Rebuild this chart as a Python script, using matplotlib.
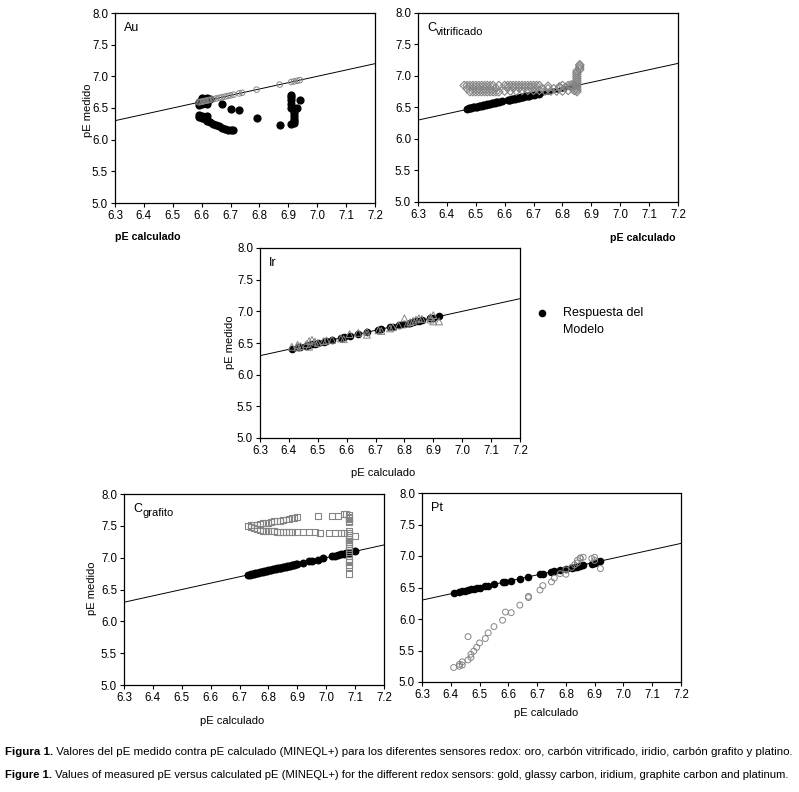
import matplotlib
matplotlib.use("Agg")
import matplotlib.pyplot as plt
from matplotlib import font_manager

plt.rcParams['font.family'] = ['Liberation Sans', 'DejaVu Sans']

GRAY = '#858585'

# ---- data: Au ----
au_open_x = [6.59, 6.595, 6.60, 6.605, 6.61, 6.615, 6.62, 6.625, 6.63, 6.64, 6.65, 6.66, 6.67,
             6.68, 6.69, 6.70, 6.71, 6.73, 6.74, 6.79, 6.87, 6.91, 6.92, 6.93, 6.94]
au_open_y = [6.59, 6.595, 6.60, 6.605, 6.61, 6.615, 6.62, 6.625, 6.63, 6.64, 6.65, 6.66, 6.67,
             6.68, 6.69, 6.70, 6.71, 6.73, 6.74, 6.79, 6.87, 6.91, 6.92, 6.93, 6.94]
au_x = [6.59, 6.59, 6.60, 6.60, 6.60, 6.61, 6.61, 6.62, 6.62, 6.62, 6.63, 6.67, 6.70, 6.73, 6.79, 6.87, 6.94,
        6.59, 6.59, 6.60, 6.60, 6.61, 6.62, 6.62, 6.63, 6.64, 6.65, 6.66, 6.67, 6.68, 6.69, 6.70, 6.71,
        6.91, 6.91, 6.91, 6.91, 6.91, 6.92, 6.92, 6.92, 6.92, 6.92, 6.91, 6.92, 6.93]
au_y = [6.60, 6.55, 6.66, 6.62, 6.57, 6.63, 6.58, 6.66, 6.61, 6.56, 6.64, 6.56, 6.48, 6.47, 6.34, 6.23, 6.62,
        6.39, 6.36, 6.38, 6.34, 6.33, 6.37, 6.30, 6.28, 6.25, 6.23, 6.21, 6.19, 6.17, 6.15, 6.15, 6.16,
        6.71, 6.67, 6.62, 6.56, 6.50, 6.46, 6.42, 6.37, 6.33, 6.29, 6.25, 6.27, 6.50]

# ---- data: C vitrificado ----
cv_black_x = [6.47, 6.475, 6.48, 6.485, 6.49, 6.495, 6.50, 6.505, 6.51, 6.515, 6.52, 6.525, 6.53, 6.535,
              6.54, 6.545, 6.55, 6.555, 6.56, 6.565, 6.57, 6.575, 6.58, 6.59, 6.61, 6.615, 6.62, 6.625,
              6.63, 6.635, 6.64, 6.645, 6.65, 6.655, 6.66, 6.665, 6.67, 6.675, 6.68, 6.685, 6.69, 6.70,
              6.71, 6.72]
cv_black_y = [6.48, 6.485, 6.49, 6.495, 6.50, 6.505, 6.51, 6.515, 6.52, 6.525, 6.53, 6.535, 6.54, 6.545,
              6.55, 6.555, 6.56, 6.565, 6.57, 6.575, 6.58, 6.585, 6.59, 6.60, 6.615, 6.62, 6.625, 6.63,
              6.635, 6.64, 6.645, 6.65, 6.655, 6.66, 6.665, 6.67, 6.675, 6.68, 6.685, 6.69, 6.695, 6.70,
              6.71, 6.72]
cv_dot_x = [6.73, 6.74, 6.75, 6.76, 6.77, 6.78, 6.79, 6.80, 6.81, 6.82, 6.83, 6.84, 6.85]
cv_dot_y = [6.73, 6.74, 6.75, 6.76, 6.77, 6.78, 6.79, 6.80, 6.81, 6.82, 6.83, 6.84, 6.85]
cv_dia_x = [6.46, 6.47, 6.48, 6.49, 6.50, 6.51, 6.52, 6.53, 6.54, 6.55, 6.56, 6.58, 6.60, 6.61, 6.62, 6.63,
            6.64, 6.65, 6.66, 6.67, 6.68, 6.69, 6.70, 6.71, 6.72, 6.75, 6.79, 6.80, 6.82, 6.83, 6.84,
            6.47, 6.49, 6.51, 6.53, 6.55, 6.57, 6.61, 6.63, 6.65, 6.67, 6.69, 6.71, 6.73, 6.75, 6.77,
            6.79, 6.81, 6.83,
            6.48, 6.49, 6.50, 6.51, 6.52, 6.53, 6.54, 6.55, 6.56, 6.57, 6.58, 6.60, 6.62, 6.64, 6.66,
            6.68, 6.70, 6.72, 6.74, 6.76, 6.78, 6.80, 6.82, 6.84,
            6.85, 6.85, 6.85, 6.85, 6.85, 6.85, 6.85, 6.85, 6.85, 6.85, 6.85, 6.85, 6.86, 6.86, 6.86, 6.86]
cv_dia_y = [6.85, 6.85, 6.85, 6.85, 6.85, 6.85, 6.85, 6.85, 6.85, 6.85, 6.85, 6.85, 6.85, 6.85, 6.85, 6.85,
            6.85, 6.85, 6.85, 6.85, 6.85, 6.85, 6.85, 6.85, 6.85, 6.84, 6.83, 6.85, 6.85, 6.86, 6.86,
            6.80, 6.80, 6.80, 6.80, 6.80, 6.81, 6.81, 6.81, 6.81, 6.81, 6.81, 6.80, 6.80, 6.80, 6.80,
            6.81, 6.82, 6.83,
            6.75, 6.75, 6.75, 6.75, 6.75, 6.75, 6.75, 6.75, 6.75, 6.75, 6.75, 6.76, 6.76, 6.76, 6.77,
            6.77, 6.77, 6.77, 6.76, 6.76, 6.76, 6.76, 6.77, 6.77,
            6.75, 6.78, 6.81, 6.84, 6.87, 6.90, 6.93, 6.96, 6.99, 7.02, 7.05, 7.08, 7.10, 7.13, 7.16, 7.18]

# ---- data: Ir ----
ir_x = [6.41, 6.43, 6.44, 6.46, 6.47, 6.48, 6.49, 6.50, 6.52, 6.53, 6.55, 6.58, 6.59, 6.61, 6.64, 6.67,
        6.71, 6.72, 6.75, 6.76, 6.78, 6.80, 6.82, 6.83, 6.84, 6.85, 6.86, 6.89, 6.90, 6.92]
ir_y = [6.41, 6.43, 6.44, 6.46, 6.47, 6.48, 6.49, 6.50, 6.52, 6.53, 6.55, 6.58, 6.59, 6.61, 6.64, 6.67,
        6.71, 6.72, 6.75, 6.76, 6.78, 6.80, 6.82, 6.83, 6.84, 6.85, 6.86, 6.89, 6.90, 6.92]
ir_tri_x = [6.41, 6.43, 6.43, 6.44, 6.46, 6.47, 6.47, 6.48, 6.49, 6.50, 6.52, 6.53, 6.55, 6.58, 6.59,
            6.61, 6.64, 6.67, 6.67, 6.71, 6.72, 6.75, 6.76, 6.78, 6.80, 6.81, 6.82, 6.83, 6.84, 6.85,
            6.86, 6.89, 6.90, 6.90, 6.92, 6.89]
ir_tri_y = [6.44, 6.47, 6.43, 6.45, 6.48, 6.53, 6.44, 6.55, 6.52, 6.50, 6.53, 6.54, 6.55, 6.57, 6.56,
            6.64, 6.66, 6.68, 6.63, 6.70, 6.69, 6.73, 6.75, 6.78, 6.89, 6.80, 6.83, 6.85, 6.87, 6.89,
            6.88, 6.91, 6.94, 6.84, 6.84, 6.87]

# ---- data: C grafito ----
gr_x = [6.73, 6.735, 6.74, 6.745, 6.75, 6.755, 6.76, 6.765, 6.77, 6.775, 6.78, 6.785, 6.79, 6.795,
        6.80, 6.805, 6.81, 6.815, 6.82, 6.825, 6.83, 6.835, 6.84, 6.845, 6.85, 6.855, 6.86, 6.865,
        6.87, 6.875, 6.88, 6.885, 6.89, 6.895, 6.90, 6.92, 6.94, 6.95, 6.97, 6.99, 7.02, 7.03, 7.04,
        7.05, 7.06, 7.07, 7.08, 7.10]
gr_y = [6.73, 6.735, 6.74, 6.745, 6.75, 6.755, 6.76, 6.765, 6.77, 6.775, 6.78, 6.785, 6.79, 6.795,
        6.80, 6.805, 6.81, 6.815, 6.82, 6.825, 6.83, 6.835, 6.84, 6.845, 6.85, 6.855, 6.86, 6.865,
        6.87, 6.875, 6.88, 6.885, 6.89, 6.895, 6.90, 6.92, 6.94, 6.95, 6.97, 6.99, 7.02, 7.03, 7.04,
        7.05, 7.06, 7.07, 7.08, 7.11]
gr_sq_x = [6.73, 6.74, 6.75, 6.76, 6.77, 6.78, 6.79, 6.80, 6.81, 6.82, 6.83, 6.84, 6.85, 6.86, 6.87,
           6.88, 6.89, 6.90,
           6.74, 6.75, 6.76, 6.77, 6.78, 6.79, 6.80, 6.81, 6.82, 6.83, 6.84, 6.85, 6.86, 6.87, 6.88,
           6.90, 6.92, 6.94, 6.96, 6.98, 7.01, 7.03, 7.05, 7.06,
           6.97, 7.02, 7.04, 7.06, 7.07,
           7.08, 7.08, 7.08, 7.08, 7.08, 7.08, 7.08, 7.08, 7.08, 7.08, 7.08, 7.08, 7.08, 7.08, 7.08,
           7.08, 7.08, 7.08, 7.08, 7.08, 7.08, 7.08, 7.08, 7.08, 7.08, 7.10]
gr_sq_y = [7.50, 7.51, 7.51, 7.52, 7.53, 7.54, 7.54, 7.55, 7.56, 7.57, 7.58, 7.58, 7.59, 7.60, 7.61,
           7.62, 7.63, 7.64,
           7.48, 7.46, 7.45, 7.43, 7.42, 7.42, 7.42, 7.42, 7.42, 7.41, 7.41, 7.41, 7.40, 7.40, 7.40,
           7.40, 7.40, 7.40, 7.40, 7.39, 7.39, 7.39, 7.39, 7.39,
           7.65, 7.65, 7.66, 7.68, 7.68,
           7.67, 7.64, 7.62, 7.60, 7.58, 7.56, 7.42, 7.39, 7.36, 7.33, 7.30, 7.27, 7.24, 7.21, 7.18,
           7.15, 7.12, 7.09, 7.06, 7.03, 6.97, 6.93, 6.89, 6.85, 6.75, 7.34]

# ---- data: Pt ----
pt_x = [6.41, 6.43, 6.44, 6.45, 6.46, 6.47, 6.48, 6.49, 6.50, 6.52, 6.53, 6.55, 6.58, 6.59, 6.61, 6.64,
        6.67, 6.71, 6.72, 6.75, 6.76, 6.78, 6.80, 6.82, 6.83, 6.84, 6.85, 6.86, 6.89, 6.90, 6.92]
pt_y = [6.41, 6.43, 6.44, 6.45, 6.46, 6.47, 6.48, 6.49, 6.50, 6.52, 6.53, 6.55, 6.58, 6.59, 6.61, 6.64,
        6.67, 6.71, 6.72, 6.75, 6.76, 6.78, 6.79, 6.81, 6.82, 6.83, 6.84, 6.85, 6.88, 6.89, 6.92]
pt_open_x = [6.41, 6.43, 6.43, 6.44, 6.44, 6.46, 6.46, 6.47, 6.47, 6.48, 6.49, 6.50, 6.52, 6.53, 6.55,
             6.58, 6.59, 6.61, 6.64, 6.67, 6.67, 6.71, 6.72, 6.75, 6.76, 6.78, 6.80, 6.80, 6.82, 6.83,
             6.84, 6.84, 6.85, 6.85, 6.86, 6.89, 6.90, 6.90, 6.92]
pt_open_y = [5.23, 5.25, 5.28, 5.27, 5.32, 5.35, 5.72, 5.39, 5.44, 5.49, 5.55, 5.62, 5.69, 5.78, 5.88,
             5.98, 6.11, 6.10, 6.22, 6.34, 6.36, 6.46, 6.53, 6.59, 6.65, 6.72, 6.71, 6.78, 6.82, 6.86,
             6.89, 6.93, 6.96, 6.97, 6.98, 6.96, 6.98, 6.93, 6.80]

line_x = [6.3, 7.2]
line_y = [6.3, 7.2]

W, H = 799, 792
fig = plt.figure(figsize=(W / 100, H / 100), dpi=100)


def make_ax(l, t, r, b, label, sub=None):
    ax = fig.add_axes([l / W, 1 - b / H, (r - l) / W, (b - t) / H])
    ax.set_xlim(6.3, 7.2)
    ax.set_ylim(5.0, 8.0)
    ax.set_xticks([6.3, 6.4, 6.5, 6.6, 6.7, 6.8, 6.9, 7.0, 7.1, 7.2])
    ax.set_yticks([5.0, 5.5, 6.0, 6.5, 7.0, 7.5, 8.0])
    ax.xaxis.set_major_formatter('{x:.1f}')
    ax.yaxis.set_major_formatter('{x:.1f}')
    ax.tick_params(direction='out', length=3, width=0.8, labelsize=8.3, pad=2)
    for s in ax.spines.values():
        s.set_linewidth(0.9)
    ax.plot(line_x, line_y, color='black', lw=0.7, zorder=1)
    t = ax.text(0.035, 0.955, label, transform=ax.transAxes, fontsize=9, va='top', ha='left')
    if sub:
        ax.annotate(sub, xy=(1, 0), xycoords=t, xytext=(0, -2.5), textcoords='offset points',
                    fontsize=8, va='bottom', ha='left')
    return ax


ax_au = make_ax(115, 13, 375, 203, 'Au')
ax_au.scatter(au_open_x, au_open_y, s=16, facecolors='none', edgecolors=GRAY, linewidths=0.7, zorder=3)
ax_au.scatter(au_x, au_y, s=24, color='black', zorder=2)

ax_cv = make_ax(418, 13, 678, 202, 'C', 'vitrificado')
ax_cv.scatter(cv_black_x, cv_black_y, s=22, color='black', zorder=2)
ax_cv.scatter(cv_dot_x, cv_dot_y, s=5, color='black', zorder=2)
ax_cv.scatter(cv_dia_x, cv_dia_y, s=18, marker='D', facecolors='none', edgecolors=GRAY, linewidths=0.8, zorder=3)

ax_ir = make_ax(260, 248, 520, 438, 'Ir')
h_model = ax_ir.scatter(ir_x, ir_y, s=20, color='black', zorder=2)
ax_ir.scatter(ir_tri_x, ir_tri_y, s=24, marker='^', facecolors='none', edgecolors=GRAY, linewidths=0.7, zorder=3)
fig.legend([h_model], ['Respuesta del'], loc='upper left', bbox_to_anchor=(535.5 / W, 1 - 307 / H),
           frameon=False, fontsize=9, handlelength=1.0, handletextpad=1.2, borderpad=0,
           borderaxespad=0, scatterpoints=1)
fig.text(563 / W, 1 - 330 / H, 'Modelo', fontsize=9, ha='left', va='center')

ax_gr = make_ax(124, 494, 384, 685, 'C', 'grafito')
ax_gr.scatter(gr_x, gr_y, s=22, color='black', zorder=2)
ax_gr.scatter(gr_sq_x, gr_sq_y, s=18, marker='s', facecolors='none', edgecolors=GRAY, linewidths=0.8, zorder=3)

ax_pt = make_ax(422, 493, 681, 682, 'Pt')
ax_pt.scatter(pt_x, pt_y, s=20, color='black', zorder=2)
ax_pt.scatter(pt_open_x, pt_open_y, s=18, facecolors='none', edgecolors=GRAY, linewidths=0.7, zorder=3)

# axis titles placed like in the original layout
fig.text(115 / W, 1 - 237 / H, 'pE calculado', fontsize=7.7, fontweight='bold', ha='left', va='center')
fig.text(676 / W, 1 - 238 / H, 'pE calculado', fontsize=7.7, fontweight='bold', ha='right', va='center')
fig.text(383 / W, 1 - 473 / H, 'pE calculado', fontsize=8, ha='center', va='center')
fig.text(232 / W, 1 - 721 / H, 'pE calculado', fontsize=8, ha='center', va='center')
fig.text(546 / W, 1 - 713 / H, 'pE calculado', fontsize=8, ha='center', va='center')
fig.text(88 / W, 1 - 110 / H, 'pE medido', fontsize=8, rotation=90, ha='center', va='center')
fig.text(230 / W, 1 - 342 / H, 'pE medido', fontsize=8, rotation=90, ha='center', va='center')
fig.text(92 / W, 1 - 588 / H, 'pE medido', fontsize=8, rotation=90, ha='center', va='center')

# caption, scaled so each line spans the same width as in the original
names = {f.name for f in font_manager.fontManager.ttflist}
cap_font = 'Liberation Sans Narrow' if 'Liberation Sans Narrow' in names else 'Liberation Sans'
captions = [
    ('Figura 1.', ' Valores del pE medido contra pE calculado (MINEQL+) para los diferentes sensores redox: '
                  'oro, carbón vitrificado, iridio, carbón grafito y platino.', 752, 788),
    ('Figure 1.', ' Values of measured pE versus calculated pE (MINEQL+) for the different redox sensors: '
                  'gold, glassy carbon, iridium, graphite carbon and platinum.', 775, 792),
]
renderer = fig.canvas.get_renderer()
for bold, rest, yy, xend in captions:
    m1 = fig.text(0, 0, bold, fontsize=10, fontweight='bold', family=cap_font)
    m2 = fig.text(0, 0, rest, fontsize=10, family=cap_font)
    total = m1.get_window_extent(renderer).width + m2.get_window_extent(renderer).width
    m1.remove()
    m2.remove()
    size = 10 * (xend - 5) / total
    t1 = fig.text(5 / W, 1 - yy / H, bold, fontsize=size, fontweight='bold', family=cap_font,
                  ha='left', va='center')
    w1 = t1.get_window_extent(renderer).width
    fig.text((5 + w1) / W, 1 - yy / H, rest, fontsize=size, family=cap_font, ha='left', va='center')

fig.savefig('out.png', dpi=100)
